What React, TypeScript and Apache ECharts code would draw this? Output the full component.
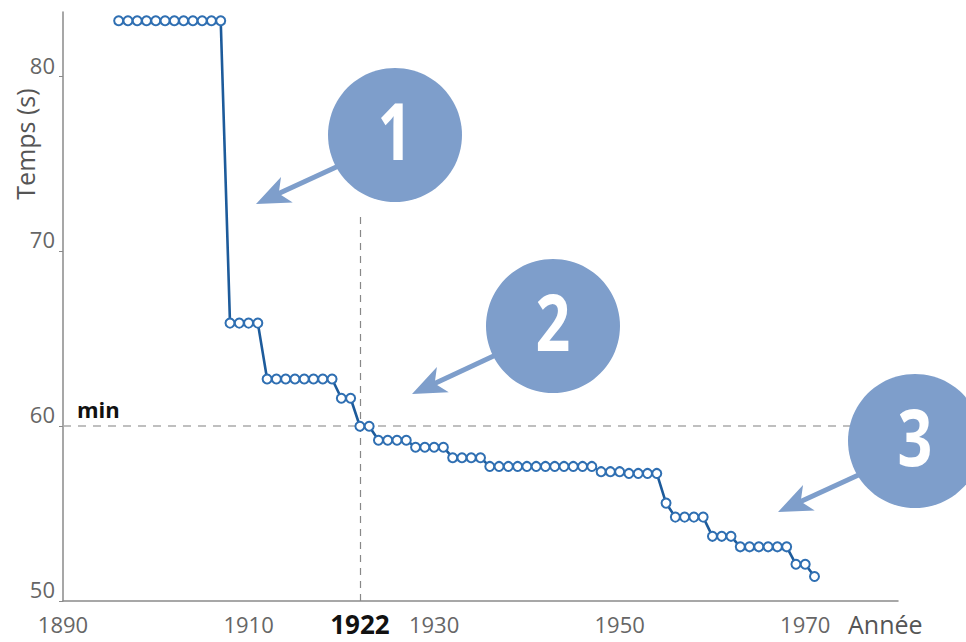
import React, { useEffect, useRef } from "react";
import * as echarts from "echarts";

const years = [
  1896, 1897, 1898, 1899, 1900, 1901, 1902, 1903, 1904, 1905, 1906, 1907,
  1908, 1909, 1910, 1911,
  1912, 1913, 1914, 1915, 1916, 1917, 1918, 1919,
  1920, 1921, 1922, 1923,
  1924, 1925, 1926, 1927,
  1928, 1929, 1930, 1931,
  1932, 1933, 1934, 1935,
  1936, 1937, 1938, 1939, 1940, 1941, 1942, 1943, 1944, 1945, 1946, 1947,
  1948, 1949, 1950, 1951, 1952, 1953, 1954,
  1955, 1956, 1957, 1958, 1959,
  1960, 1961, 1962,
  1963, 1964, 1965, 1966, 1967, 1968,
  1969, 1970, 1971,
];

const times = [
  83.2, 83.2, 83.2, 83.2, 83.2, 83.2, 83.2, 83.2, 83.2, 83.2, 83.2, 83.2,
  65.9, 65.9, 65.9, 65.9,
  62.7, 62.7, 62.7, 62.7, 62.7, 62.7, 62.7, 62.7,
  61.6, 61.6, 60.0, 60.0,
  59.2, 59.2, 59.2, 59.2,
  58.8, 58.8, 58.8, 58.8,
  58.2, 58.2, 58.2, 58.2,
  57.7, 57.7, 57.7, 57.7, 57.7, 57.7, 57.7, 57.7, 57.7, 57.7, 57.7, 57.7,
  57.4, 57.4, 57.4, 57.3, 57.3, 57.3, 57.3,
  55.6, 54.8, 54.8, 54.8, 54.8,
  53.7, 53.7, 53.7,
  53.1, 53.1, 53.1, 53.1, 53.1, 53.1,
  52.1, 52.1, 51.4,
];

const xTicks = { min: 1890, max: 1980, interval: 20 };
const yTicks = { min: 50, max: 83.7, interval: 10 };
const minTime = 60;
const keyYear = 1922;
const badges = ["1", "2", "3"];

const FONT = "'Open Sans', 'Noto Sans', sans-serif";
const NUMFONT = "'Open Sans', 'DejaVu Sans', sans-serif";
const BADGE = "#7e9ecb";

function arrow(tip: number[], start: number[]) {
  const dx = start[0] - tip[0];
  const dy = start[1] - tip[1];
  const len = Math.sqrt(dx * dx + dy * dy);
  const u = [dx / len, dy / len];
  const p = [-u[1], u[0]];
  const at = (a: number, b: number) => [tip[0] + a * u[0] + b * p[0], tip[1] + a * u[1] + b * p[1]];
  return [
    {
      type: "line",
      z: 100,
      shape: { x1: at(22, 0)[0], y1: at(22, 0)[1], x2: start[0], y2: start[1] },
      style: { stroke: BADGE, lineWidth: 5 },
    },
    {
      type: "polygon",
      z: 100,
      shape: { points: [tip, at(34, 14), at(25, 0), at(34, -14)] },
      style: { fill: BADGE },
    },
  ];
}

function badge(cx: number, cy: number, label: string) {
  return [
    { type: "circle", z: 101, shape: { cx, cy, r: 67 }, style: { fill: BADGE } },
    {
      type: "text",
      z: 102,
      x: cx,
      y: cy - 6,
      scaleX: 0.78,
      style: {
        text: label,
        fill: "#ffffff",
        fontSize: 78,
        fontWeight: "bold",
        fontFamily: NUMFONT,
        align: "center",
        verticalAlign: "middle",
      },
    },
  ];
}

export default function App() {
  const ref = useRef<HTMLDivElement>(null);
  useEffect(() => {
    if (!ref.current) return;
    const chart = echarts.init(ref.current, undefined, { renderer: "svg" });
    const data = years.map((y, i) => [y, times[i]]);
    chart.setOption({
      animation: false,
      backgroundColor: "#ffffff",
      grid: { left: 63, top: 12, width: 835, height: 589, containLabel: false },
      xAxis: {
        type: "value",
        min: xTicks.min,
        max: xTicks.max,
        interval: xTicks.interval,
        axisLine: { lineStyle: { color: "#8a8a8a", width: 1.5 } },
        axisTick: { show: false },
        splitLine: { show: false },
        axisLabel: {
          showMaxLabel: false,
          formatter: (v: number) => String(v),
          fontSize: 22,
          color: "#666",
          fontFamily: FONT,
          margin: 12,
        },
      },
      yAxis: {
        type: "value",
        min: yTicks.min,
        max: yTicks.max,
        interval: yTicks.interval,
        axisLine: { show: true, lineStyle: { color: "#8a8a8a", width: 1.5 } },
        axisTick: { show: true, length: 4, lineStyle: { color: "#8a8a8a" } },
        splitLine: { show: false },
        axisLabel: {
          showMaxLabel: false,
          fontSize: 22,
          color: "#666",
          fontFamily: FONT,
          margin: 8,
          verticalAlign: "bottom",
          lineHeight: 24,
        },
      },
      series: [
        {
          type: "line",
          data,
          symbol: "emptyCircle",
          symbolSize: 9,
          lineStyle: { color: "#1d5b9b", width: 2.6 },
          itemStyle: { color: "#2f6fb2", borderWidth: 1.7 },
          z: 5,
          markLine: {
            silent: true,
            symbol: "none",
            animation: false,
            data: [
              {
                yAxis: minTime,
                lineStyle: { color: "#aaaaaa", type: [8, 7], width: 1.5 },
                label: {
                  show: true,
                  position: "insideStartTop",
                  formatter: "min",
                  fontSize: 22,
                  fontWeight: "bold",
                  color: "#111",
                  fontFamily: FONT,
                  distance: [14, 6],
                },
              },
              [
                {
                  coord: [keyYear, yTicks.min],
                  lineStyle: { color: "#888888", type: [7, 6], width: 1.2 },
                  label: {
                    show: true,
                    position: "start",
                    formatter: String(keyYear),
                    fontSize: 26,
                    fontWeight: "bold",
                    color: "#111",
                    fontFamily: FONT,
                    distance: 10,
                  },
                },
                { coord: [keyYear, 72] },
              ],
            ],
          },
        },
      ],
      graphic: [
        ...arrow([256, 204], [345, 163]),
        ...arrow([412, 394], [500, 353]),
        ...arrow([778, 512], [865, 472]),
        ...badge(395, 135, badges[0]),
        ...badge(553, 326, badges[1]),
        ...badge(915, 441, badges[2]),
        {
          type: "text",
          x: 25,
          y: 144,
          rotation: Math.PI / 2,
          style: {
            text: "Temps (s)",
            fill: "#555",
            fontSize: 25,
            fontFamily: FONT,
            align: "center",
            verticalAlign: "middle",
          },
        },
        {
          type: "text",
          x: 848,
          y: 624,
          style: {
            text: "Année",
            fill: "#555",
            fontSize: 25,
            fontFamily: FONT,
            align: "left",
            verticalAlign: "middle",
          },
        },
      ],
    });
    return () => chart.dispose();
  }, []);
  return (
    <div
      ref={ref}
      style={{ position: "absolute", left: 0, top: 0, width: 966, height: 642 }}
    />
  );
}
